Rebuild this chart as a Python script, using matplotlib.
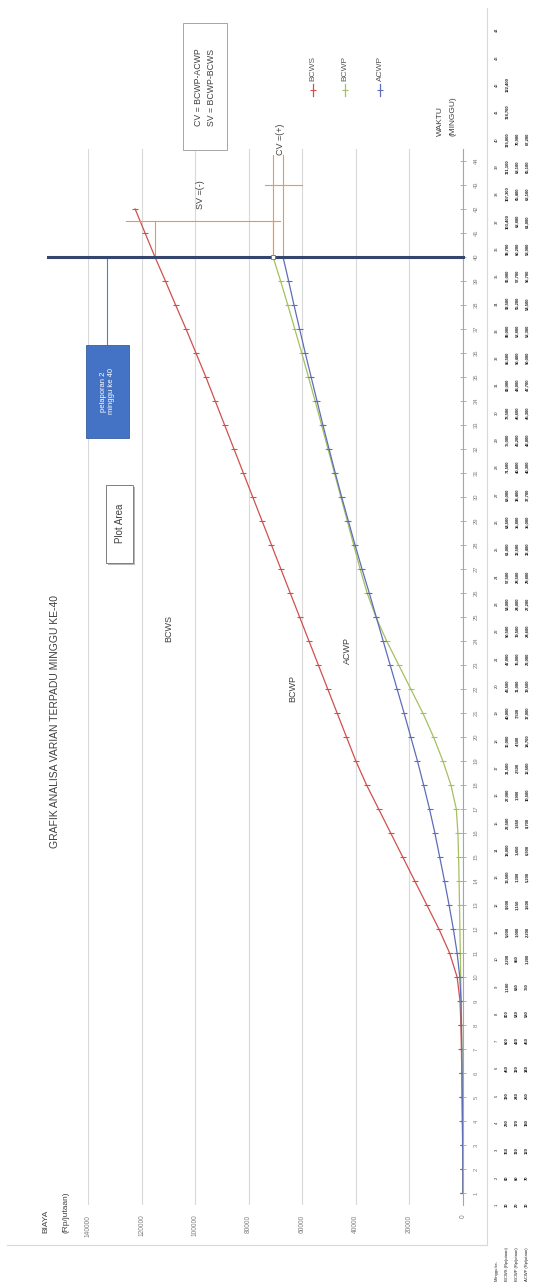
import matplotlib
matplotlib.use('Agg')
import matplotlib.pyplot as plt
from matplotlib.patches import Rectangle
from matplotlib.lines import Line2D
import matplotlib.patheffects as pe

plt.rcParams['font.family'] = ['Liberation Sans', 'DejaVu Sans']

# kumulatif biaya (Rp/jutaan) per minggu
weeks_plan = list(range(1, 43))
bcws = [30, 80, 150, 230, 330, 450, 600, 800, 1100, 2200,
        5000, 9000, 13500, 18000, 22500, 27000, 31500, 36000, 40000, 43500,
        47000, 50500, 54000, 57500, 61000, 64500, 68000, 71500, 75000, 78500,
        82000, 85500, 89000, 92500, 96000, 99700, 103400, 107300, 111100, 115000,
        118700, 122400]

weeks_real = list(range(1, 41))
bcwp = [20, 60, 110, 170, 240, 320, 420, 540, 680, 850,
        1000, 1150, 1300, 1450, 1650, 1900, 2500, 4500, 7500, 11000,
        15000, 19500, 24000, 28500, 32500, 35800, 38400, 40800, 43200, 45600,
        48000, 50400, 52800, 55200, 57700, 60200, 62800, 65400, 68100, 70900]
acwp = [30, 70, 120, 180, 250, 340, 450, 580, 750, 1200,
        2200, 3600, 5200, 6900, 8700, 10500, 12500, 14700, 17000, 19500,
        22000, 24600, 27200, 29800, 32400, 35000, 37700, 40300, 42800, 45300,
        47700, 50000, 52300, 54500, 56700, 58900, 61000, 63100, 65100, 67200]

value_ticks = [0, 20000, 40000, 60000, 80000, 100000, 120000, 140000]
week_ticks = list(range(1, 45))
table_header = ['Minggu ke-', 'BCWS (Rp/jutaan)', 'BCWP (Rp/jutaan)', 'ACWP (Rp/jutaan)']
report_week = 40

C_BCWS = '#D0504F'
C_BCWP = '#A5C05F'
C_ACWP = '#5E6DB8'
C_ORANGE = '#F5953F'
GREY = '#7F7F7F'

W, H = 537, 1284
fig = plt.figure(figsize=(W / 100, H / 100), dpi=100)


def fx(px):
    return px / W


def fy(py):
    return 1 - py / H


# grafik diputar: sumbu biaya mendatar (terbalik), minggu tegak
ax = fig.add_axes([fx(88), fy(1205), fx(463 - 88), (1205 - 149) / H])
ax.set_xlim(140000, 0)
ax.set_ylim(0.5, 44.5)

for s in ['left', 'top', 'bottom']:
    ax.spines[s].set_visible(False)
ax.spines['right'].set_color('#A6A6A6')
ax.spines['right'].set_linewidth(0.8)

ax.set_xticks(value_ticks)
ax.set_xticklabels([str(v) for v in value_ticks], rotation=90, fontsize=4.8, color=GREY)
ax.tick_params(axis='x', length=0, pad=7)
ax.grid(axis='x', color='#D9D9D9', lw=0.8)
ax.set_axisbelow(True)

ax.yaxis.tick_right()
ax.set_yticks(week_ticks)
ax.set_yticklabels([str(w) for w in week_ticks], rotation=90, va='center', fontsize=4.2, color=GREY)
ax.tick_params(axis='y', direction='inout', length=5, width=0.6, color='#A6A6A6', pad=5)

mk = dict(marker='_', ms=4, mew=0.8, lw=0.9)
ax.plot(bcws, weeks_plan, color=C_BCWS, **mk)
ax.plot(bcwp, weeks_real, color=C_BCWP, **mk)
ax.plot(acwp, weeks_real, color=C_ACWP, **mk)

# garis pelaporan minggu ke-40
ax.plot([155000, 0], [report_week, report_week], color='#34456E', lw=2.2, clip_on=False, zorder=5)
ax.plot([bcwp[-1]], [report_week], marker='s', ms=3.5, mfc='white', mec=C_ACWP, mew=0.6, zorder=6)

# SV = BCWP - BCWS
sv_y = 41.5
ax.plot([bcws[report_week - 1]] * 2, [report_week, sv_y], color=C_ORANGE, lw=0.8, clip_on=False)
ax.plot([bcwp[report_week - 1]] * 2, [report_week, sv_y], color=C_ORANGE, lw=0.8, clip_on=False)
ax.plot([bcws[report_week - 1] + 11000, bcwp[report_week - 1] - 2500], [sv_y, sv_y],
        color=C_ORANGE, lw=0.8, clip_on=False)
ax.text(98000, 42.6, 'SV =(-)', rotation=90, ha='center', va='center', fontsize=6.5, color='#404040')

# CV = BCWP - ACWP
ax.plot([bcwp[report_week - 1]] * 2, [report_week, 44.25], color=C_ORANGE, lw=0.8, clip_on=False)
ax.plot([acwp[report_week - 1]] * 2, [report_week, 44.25], color=C_ORANGE, lw=0.8, clip_on=False)
ax.plot([73900, 60100], [43.0, 43.0], color=C_ORANGE, lw=0.8, clip_on=False)
ax.text(68300, 44.9, 'CV =(+)', rotation=90, ha='center', va='center', fontsize=6.5,
        color='#404040', clip_on=False)

# label seri di dalam grafik
ax.text(110000, 24.5, 'BCWS', rotation=90, ha='center', va='center', fontsize=6.5, color='#404040')
ax.text(63400, 22.0, 'BCWP', rotation=90, ha='center', va='center', fontsize=6.5, color='#404040')
ax.text(43300, 23.6, 'ACWP', rotation=90, ha='center', va='center', fontsize=6.5, color='#404040')

# kotak keterangan pelaporan
ax.plot([132800, 132800], [report_week, 36.3], color='#4F81BD', lw=0.8, clip_on=False)
ax.add_patch(Rectangle((140700, 32.45), 124600 - 140700, 36.35 - 32.45,
                       facecolor='#4472C4', edgecolor='#3A5F9F', lw=0.6, clip_on=False, zorder=4))
ax.text(132650, 34.4, 'pelaporan 2\nminggu ke 40', rotation=90, ha='center', va='center',
        fontsize=5.5, color='white', linespacing=1.1, zorder=5)

# kotak "Plot Area"
ax.add_patch(Rectangle((133200, 27.25), 123100 - 133200, 30.5 - 27.25, facecolor='white',
                       edgecolor='#7F7F7F', lw=0.7, clip_on=False, zorder=4,
                       path_effects=[pe.SimplePatchShadow(offset=(1.2, -1.2), alpha=0.4), pe.Normal()]))
ax.text(128150, 28.9, 'Plot Area', rotation=90, ha='center', va='center', fontsize=7,
        color='#404040', zorder=5)

# judul dan label sumbu
fig.text(fx(55), fy(722), 'GRAFIK ANALISA VARIAN TERPADU MINGGU KE-40', rotation=90,
         ha='center', va='center', fontsize=7.5, color='#404040')
fig.text(fx(46), fy(1233), 'BIAYA', rotation=90, ha='center', va='bottom',
         fontsize=6, color='#404040')
fig.text(fx(66), fy(1233), '(Rp/jutaan)', rotation=90, ha='center', va='bottom',
         fontsize=6, color='#404040')
fig.text(fx(440), fy(136), 'WAKTU', rotation=90, ha='center', va='bottom',
         fontsize=6, color='#404040')
fig.text(fx(453), fy(136), '(MINGGU)', rotation=90, ha='center', va='bottom',
         fontsize=6, color='#404040')

# kotak rumus CV / SV
fig.patches.append(Rectangle((fx(183), fy(150)), fx(227 - 183), (150 - 23) / H,
                             transform=fig.transFigure, facecolor='white',
                             edgecolor='#A6A6A6', lw=0.7))
fig.text(fx(205), fy(87), 'CV = BCWP-ACWP\nSV = BCWP-BCWS', rotation=90, ha='center',
         va='center', fontsize=6.3, color='#404040', linespacing=1.5, multialignment='left')

# legenda
for xpx, name, col in [(313, 'BCWS', C_BCWS), (345, 'BCWP', C_BCWP), (380, 'ACWP', C_ACWP)]:
    fig.add_artist(Line2D([fx(xpx)] * 2, [fy(96), fy(84)], color=col, lw=0.9,
                          transform=fig.transFigure))
    fig.add_artist(Line2D([fx(xpx)], [fy(90)], color=col, marker='_', ms=4, mew=0.8,
                          transform=fig.transFigure))
    fig.text(fx(xpx), fy(81), name, rotation=90, ha='center', va='bottom', fontsize=6,
             color='#595959')

# bingkai area grafik
fig.add_artist(Line2D([fx(7), fx(487)], [fy(1245)] * 2, color='#D9D9D9', lw=0.8,
                      transform=fig.transFigure))
fig.add_artist(Line2D([fx(487)] * 2, [fy(8), fy(1245)], color='#D9D9D9', lw=0.8,
                      transform=fig.transFigure))

# tabel data di samping grafik
col_x = [497, 507, 517, 527]
for i, head in enumerate(table_header):
    fig.text(fx(col_x[i]), fy(1281), head, rotation=90, ha='center', va='bottom',
             fontsize=3, color='#202020')
step = (1205 - 30) / (len(week_ticks) - 1)
for k in week_ticks:
    ypx = 1205 - (k - 1) * step
    cells = [str(k)]
    cells.append(f'{bcws[k - 1]:,}' if k <= len(bcws) else '')
    cells.append(f'{bcwp[k - 1]:,}' if k <= len(bcwp) else '')
    cells.append(f'{acwp[k - 1]:,}' if k <= len(acwp) else '')
    for i, c in enumerate(cells):
        if c:
            fig.text(fx(col_x[i]), fy(ypx), c, rotation=90, ha='center', va='center',
                     fontsize=3, color='#202020', fontweight='bold' if i else 'normal')

fig.savefig('out.png', dpi=100, facecolor='white')
